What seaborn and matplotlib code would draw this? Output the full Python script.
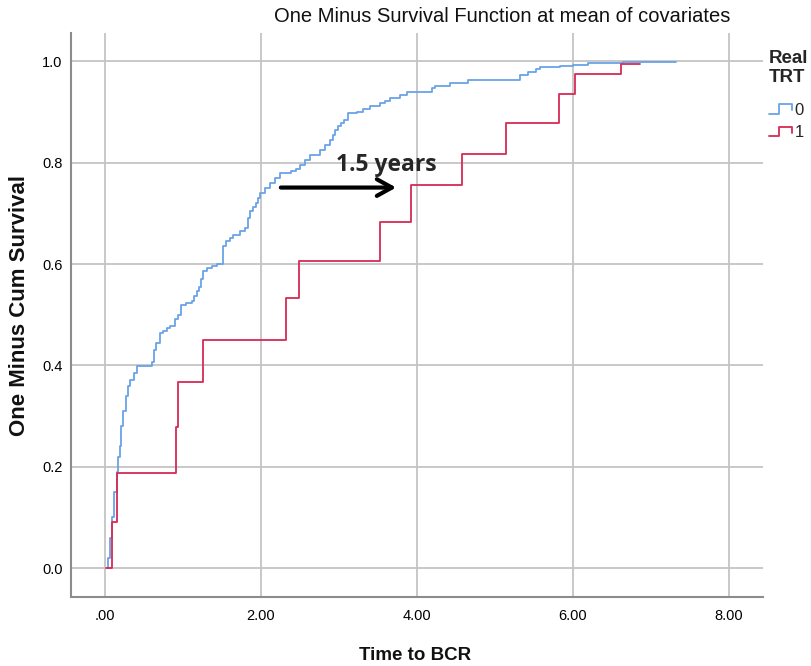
import numpy as np
import pandas as pd
import matplotlib
matplotlib.use("Agg")
import matplotlib.pyplot as plt
import seaborn as sns
from matplotlib import font_manager as fm
from matplotlib.lines import Line2D
from matplotlib.legend_handler import HandlerBase

# ---------------- data ----------------
groups = ["0", "1"]

time_0 = [0.02, 0.04, 0.06, 0.09, 0.12, 0.15, 0.17, 0.19, 0.21, 0.23, 0.27, 0.29,
          0.32, 0.37, 0.41, 0.60, 0.63, 0.66, 0.71, 0.75, 0.79, 0.83, 0.90, 0.94,
          0.98, 1.04, 1.11, 1.14, 1.18, 1.21, 1.23, 1.26, 1.31, 1.37, 1.44, 1.52,
          1.55, 1.60, 1.64, 1.73, 1.79, 1.83, 1.86, 1.90, 1.94, 1.96, 1.99, 2.05,
          2.12, 2.18, 2.24, 2.39, 2.45, 2.50, 2.56, 2.63, 2.76, 2.82, 2.88, 2.92,
          2.95, 2.99, 3.03, 3.06, 3.12, 3.23, 3.31, 3.40, 3.53, 3.59, 3.65, 3.78,
          3.87, 4.19, 4.23, 4.42, 4.66, 5.32, 5.43, 5.53, 5.58, 5.83, 6.00, 6.20,
          6.65, 7.33]
value_0 = [0.000, 0.020, 0.060, 0.100, 0.150, 0.190, 0.220, 0.240, 0.280, 0.310, 0.340, 0.360,
           0.372, 0.385, 0.398, 0.406, 0.430, 0.445, 0.464, 0.468, 0.473, 0.477, 0.491, 0.500,
           0.520, 0.524, 0.527, 0.537, 0.546, 0.555, 0.570, 0.586, 0.592, 0.597, 0.600, 0.635,
           0.645, 0.652, 0.658, 0.665, 0.671, 0.690, 0.704, 0.712, 0.721, 0.730, 0.740, 0.750,
           0.760, 0.770, 0.780, 0.783, 0.788, 0.796, 0.806, 0.816, 0.826, 0.835, 0.845, 0.855,
           0.865, 0.872, 0.878, 0.885, 0.898, 0.901, 0.906, 0.911, 0.918, 0.922, 0.927, 0.934,
           0.940, 0.947, 0.952, 0.957, 0.964, 0.973, 0.980, 0.985, 0.989, 0.991, 0.992, 0.996,
           0.999, 0.999]

time_1 = [0.01, 0.086, 0.158, 0.906, 0.936, 1.26, 2.32, 2.49, 3.53, 3.92, 4.58,
          5.14, 5.82, 6.03, 6.62, 6.86]
value_1 = [0.000, 0.091, 0.187, 0.279, 0.367, 0.450, 0.534, 0.607, 0.684, 0.757, 0.817,
           0.878, 0.935, 0.975, 0.995, 0.995]

x_ticks = [0, 2, 4, 6, 8]
x_tick_labels = [".00", "2.00", "4.00", "6.00", "8.00"]
y_ticks = [0.0, 0.2, 0.4, 0.6, 0.8, 1.0]
y_tick_labels = ["0.0", "0.2", "0.4", "0.6", "0.8", "1.0"]

title = "One Minus Survival Function at mean of covariates"
x_label = "Time to BCR"
y_label = "One Minus Cum Survival"
legend_title = "Real\nTRT"
annot_text = "1.5 years"

df = pd.concat([
    pd.DataFrame({"time": time_0, "value": value_0, "grp": groups[0]}),
    pd.DataFrame({"time": time_1, "value": value_1, "grp": groups[1]}),
], ignore_index=True)

# ---------------- style ----------------
sns.set_theme(style="white")
names = {f.name for f in fm.fontManager.ttflist}
narrow = "Liberation Sans Narrow" if "Liberation Sans Narrow" in names else "Liberation Sans"
plt.rcParams["font.family"] = [narrow, "DejaVu Sans"]

colors = {"0": "#6AA2E8", "1": "#D62B55"}

fig = plt.figure(figsize=(8.11, 6.66), dpi=100)
ax = fig.add_axes([71 / 811, 1 - 597 / 666, (763 - 71) / 811, (597 - 33) / 666])

sns.lineplot(data=df, x="time", y="value", hue="grp", palette=colors,
             drawstyle="steps-post", estimator=None, sort=False, lw=1.3,
             legend=False, ax=ax, zorder=3)

ax.set_xlim(-0.436, 8.44)
ax.set_ylim(-0.057, 1.056)
ax.set_xticks(x_ticks)
ax.set_xticklabels(x_tick_labels)
ax.set_yticks(y_ticks)
ax.set_yticklabels(y_tick_labels)
ax.tick_params(axis="both", length=0, labelsize=10.5, colors="black")
ax.tick_params(axis="x", pad=9)
ax.tick_params(axis="y", pad=6)
ax.grid(True, color="#C4C4C4", lw=1.3)
ax.set_axisbelow(True)
for s in ["top", "right"]:
    ax.spines[s].set_visible(False)
for s in ["left", "bottom"]:
    ax.spines[s].set_color("#8C8C8C")
    ax.spines[s].set_linewidth(1.5)

ax.set_xlabel("")
ax.set_ylabel("")
fig.text(415 / 811, 1 - 655 / 666, x_label, ha="center", va="center",
         fontsize=13.5, fontweight="bold", color="#111111")
fig.text(20 / 811, 1 - 305 / 666, y_label, ha="center", va="center",
         rotation=90, fontsize=16, fontweight="bold", color="#111111")
fig.text(502 / 811, 1 - 16 / 666, title, ha="center", va="center", fontsize=14.5,
         color="#111111")

# annotation
ax.annotate("", xy=(3.77, 0.751), xytext=(2.22, 0.751),
            arrowprops=dict(arrowstyle="->,head_length=0.9,head_width=0.5",
                            lw=3, color="black"), zorder=5)
ax.text(3.61, 0.796, annot_text, ha="center", va="center", fontsize=16.5,
        fontweight="bold", family=["Open Sans", "DejaVu Sans"], zorder=5)


class StepHandler(HandlerBase):
    def create_artists(self, legend, orig_handle, xdescent, ydescent, width,
                       height, fontsize, trans):
        x0, y0 = -xdescent, -ydescent
        xs = [x0, x0 + width * 0.45, x0 + width * 0.45, x0 + width, x0 + width]
        ys = [y0 + height * 0.1, y0 + height * 0.1, y0 + height * 0.9,
              y0 + height * 0.9, y0 + height * 0.4]
        ln = Line2D(xs, ys, color=orig_handle.get_color(),
                    lw=orig_handle.get_linewidth(), transform=trans)
        return [ln]


handles = [Line2D([], [], color=colors[g], lw=1.3) for g in groups]
leg = fig.legend(handles, groups, title=legend_title, loc="upper left",
                 bbox_to_anchor=(757 / 811, 1 - 38 / 666), frameon=False,
                 fontsize=12, title_fontsize=13.5, handlelength=1.4,
                 handletextpad=0.15, labelspacing=0.45, alignment="left",
                 borderpad=0.2, handler_map={Line2D: StepHandler()})
plt.setp(leg.get_title(), multialignment="left", fontweight="bold")
leg._legend_box.sep = 12

fig.savefig("out.png", dpi=100)
